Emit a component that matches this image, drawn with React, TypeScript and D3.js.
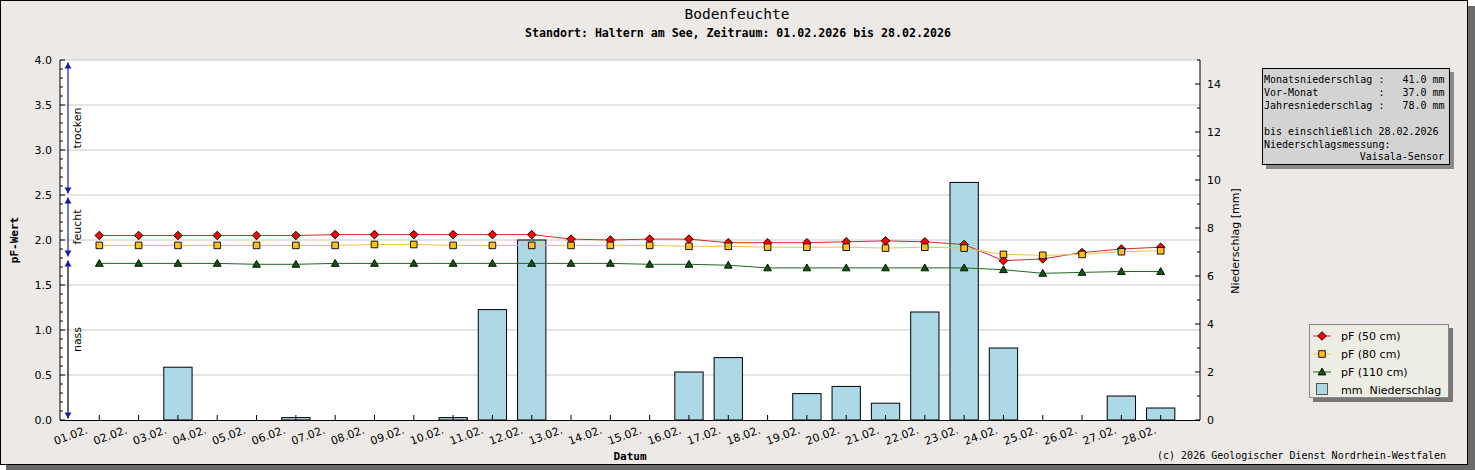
import React, { useEffect } from "react";
import * as d3 from "d3";

// Tageswerte Februar 2026, Standort Haltern am See
const dayLabels = [
  "01.02.", "02.02.", "03.02.", "04.02.", "05.02.", "06.02.", "07.02.",
  "08.02.", "09.02.", "10.02.", "11.02.", "12.02.", "13.02.", "14.02.",
  "15.02.", "16.02.", "17.02.", "18.02.", "19.02.", "20.02.", "21.02.",
  "22.02.", "23.02.", "24.02.", "25.02.", "26.02.", "27.02.", "28.02.",
];

const pf50 = [
  2.05, 2.05, 2.05, 2.05, 2.05, 2.05, 2.06, 2.06, 2.06, 2.06, 2.06, 2.06, 2.01, 2.0,
  2.01, 2.01, 1.97, 1.97, 1.97, 1.98, 1.99, 1.98, 1.95, 1.77, 1.79, 1.86, 1.9, 1.92,
];
const pf80 = [
  1.94, 1.94, 1.94, 1.94, 1.94, 1.94, 1.94, 1.95, 1.95, 1.94, 1.94, 1.94, 1.94, 1.94,
  1.94, 1.93, 1.93, 1.92, 1.92, 1.92, 1.91, 1.92, 1.91, 1.84, 1.83, 1.84, 1.87, 1.88,
];
const pf110 = [
  1.74, 1.74, 1.74, 1.74, 1.73, 1.73, 1.74, 1.74, 1.74, 1.74, 1.74, 1.74, 1.74, 1.74,
  1.73, 1.73, 1.72, 1.69, 1.69, 1.69, 1.69, 1.69, 1.69, 1.67, 1.63, 1.64, 1.65, 1.65,
];
const rainMm = [
  0, 0, 2.2, 0, 0, 0.1, 0, 0, 0, 0.1, 4.6, 7.5, 0, 0,
  0, 2.0, 2.6, 0, 1.1, 1.4, 0.7, 4.5, 9.9, 3.0, 0, 0, 1.0, 0.5,
];

const pfTicks = [0, 0.5, 1.0, 1.5, 2.0, 2.5, 3.0, 3.5, 4.0];
const rainTicks = [0, 2, 4, 6, 8, 10, 12, 14];

const zones = [
  { label: "trocken", from: 2.5, to: 4.0, color: "#1c1ca6" },
  { label: "feucht", from: 1.8, to: 2.5, color: "#1c1ca6" },
  { label: "nass", from: 0, to: 1.8, color: "#000000" },
];

const infoLines = [
  "Monatsniederschlag :   41.0 mm",
  "Vor-Monat          :   37.0 mm",
  "Jahresniederschlag :   78.0 mm",
  "",
  "bis einschließlich 28.02.2026",
  "Niederschlagsmessung:",
];
const infoSensor = "Vaisala-Sensor";

const W = 1475;
const H = 470;
const mono = "'DejaVu Sans Mono', monospace";
const sans = "'DejaVu Sans', sans-serif";

const margin = { left: 60, right: 1200, top: 60, bottom: 420 };

const diamond = (cx: number, cy: number, r = 4.3) =>
  `M${cx},${cy - r}L${cx + r},${cy}L${cx},${cy + r}L${cx - r},${cy}Z`;
const square = (cx: number, cy: number, s = 3.3) =>
  `M${cx - s},${cy - s}H${cx + s}V${cy + s}H${cx - s}Z`;
const triangle = (cx: number, cy: number, s = 3.9) =>
  `M${cx},${cy - s}L${cx + s},${cy + s * 0.75}L${cx - s},${cy + s * 0.75}Z`;

const series = [
  { name: "pF (50 cm)", values: pf50, line: "#d42a2a", fill: "#ff0000", shape: diamond },
  { name: "pF (80 cm)", values: pf80, line: "#f2c24a", fill: "#ffbf1f", shape: square },
  { name: "pF (110 cm)", values: pf110, line: "#1f6a1f", fill: "#0a5a0a", shape: triangle },
];

export default function App() {
  useEffect(() => {
    document.body.style.margin = "0";
  }, []);

  const x = d3.scaleLinear().domain([0, dayLabels.length + 1]).range([margin.left, margin.right]);
  const yPf = d3.scaleLinear().domain([0, 4]).range([margin.bottom, margin.top]);
  const yRain = d3.scaleLinear().domain([0, 15]).range([margin.bottom, margin.top]);
  const barW = x(0.72) - x(0);

  const line = (vals: number[]) =>
    d3.line<number>().x((_, i) => x(i + 1)).y(d => yPf(d))(vals) || "";

  const pfMinor = d3.range(0, 41).map(i => i / 10);
  const rainMinor = d3.range(0, 16);
  const arrowX = 68;

  const upArrow = (tipY: number) =>
    `M${arrowX},${tipY}L${arrowX + 3.5},${tipY + 6}L${arrowX - 3.5},${tipY + 6}Z`;
  const downArrow = (tipY: number) =>
    `M${arrowX},${tipY}L${arrowX + 3.5},${tipY - 6}L${arrowX - 3.5},${tipY - 6}Z`;

  return (
    <svg width={W} height={H} style={{ display: "block" }}>
      {/* Rahmen mit Schatten */}
      <rect x={6} y={6} width={W - 6} height={H - 6} fill="#6a6a6a" />
      <rect x={0.5} y={0.5} width={1467} height={464} fill="#ece9e7" stroke="#000" />

      <text x={737} y={19} textAnchor="middle" fontFamily={mono} fontSize={14.5} fill="#000">
        Bodenfeuchte
      </text>
      <text x={738} y={37} textAnchor="middle" fontFamily={mono} fontSize={11.6} fontWeight="bold" fill="#000">
        Standort: Haltern am See, Zeitraum: 01.02.2026 bis 28.02.2026
      </text>

      {/* Plotfläche */}
      <rect x={margin.left} y={margin.top} width={margin.right - margin.left} height={margin.bottom - margin.top} fill="#fff" />
      {pfTicks.filter(t => t > 0).map(t => (
        <line key={t} x1={margin.left} x2={margin.right} y1={yPf(t)} y2={yPf(t)} stroke="#c8c8c8" />
      ))}

      {/* Niederschlag */}
      {rainMm.map((v, i) =>
        v > 0 ? (
          <rect
            key={i}
            x={x(i + 1) - barW / 2}
            y={yRain(v)}
            width={barW}
            height={yRain(0) - yRain(v)}
            fill="#add8e6"
            stroke="#000"
            strokeWidth={1}
          />
        ) : null
      )}

      {/* pF-Linien */}
      {series.map(s => (
        <path key={s.name} d={line(s.values)} fill="none" stroke={s.line} strokeWidth={1} />
      ))}
      {series.map(s =>
        s.values.map((v, i) => (
          <path key={s.name + i} d={s.shape(x(i + 1), yPf(v))} fill={s.fill} stroke="#000" strokeWidth={0.9} />
        ))
      )}

      {/* Achsen */}
      <line x1={margin.left} x2={margin.left} y1={margin.top} y2={margin.bottom} stroke="#000" />
      <line x1={margin.right} x2={margin.right} y1={margin.top} y2={margin.bottom} stroke="#000" />
      <line x1={margin.left} x2={margin.right} y1={margin.bottom + 0.5} y2={margin.bottom + 0.5} stroke="#000" />

      {pfMinor.map(t => {
        const major = Math.round(t * 10) % 5 === 0;
        return (
          <line key={t} x1={margin.left} x2={margin.left + (major ? 5 : 3)} y1={yPf(t)} y2={yPf(t)} stroke="#000" />
        );
      })}
      {pfTicks.map(t => (
        <text key={t} x={52} y={yPf(t)} dy="0.35em" textAnchor="end" fontFamily={sans} fontSize={11} fill="#000">
          {t.toFixed(1)}
        </text>
      ))}

      {rainMinor.map(t => (
        <line key={t} x1={margin.right - (t % 2 === 0 ? 5 : 3)} x2={margin.right} y1={yRain(t)} y2={yRain(t)} stroke="#000" />
      ))}
      {rainTicks.map(t => (
        <text key={t} x={1207} y={yRain(t)} dy="0.35em" fontFamily={sans} fontSize={11} fill="#000">
          {t}
        </text>
      ))}

      {dayLabels.map((d, i) => (
        <g key={d}>
          <line x1={x(i + 1)} x2={x(i + 1)} y1={margin.bottom} y2={margin.bottom - 5} stroke="#000" />
          <text
            transform={`translate(${x(i + 1) - 11 + 0.27 * i},433) rotate(-20)`}
            textAnchor="end"
            fontFamily={sans}
            fontSize={11}
            fill="#000"
          >
            {d}
          </text>
        </g>
      ))}

      {/* Achsentitel */}
      <text transform={`translate(18,240) rotate(-90)`} textAnchor="middle" fontFamily={mono} fontSize={11} fontWeight="bold">
        pF-Wert
      </text>
      <text transform={`translate(1239,241) rotate(-90)`} textAnchor="middle" fontFamily={sans} fontSize={11}>
        Niederschlag [mm]
      </text>
      <text x={630} y={460} textAnchor="middle" fontFamily={mono} fontSize={11} fontWeight="bold">
        Datum
      </text>

      {/* Bereiche trocken / feucht / nass */}
      {zones.map(z => {
        const top = yPf(z.to) + 2.5;
        const bot = yPf(z.from) - 1.5;
        return (
          <g key={z.label}>
            <line x1={arrowX} x2={arrowX} y1={top} y2={bot} stroke={z.color} strokeWidth={1.2} />
            <path d={upArrow(top)} fill="#1c1ca6" />
            <path d={downArrow(bot)} fill="#1c1ca6" />
            <text
              transform={`translate(81,${(top + bot) / 2}) rotate(-90)`}
              textAnchor="middle"
              fontFamily={sans}
              fontSize={11}
              fill="#000"
            >
              {z.label}
            </text>
          </g>
        );
      })}

      {/* Infobox */}
      <rect x={1266} y={72} width={188} height={97} fill="#8a8a8a" />
      <rect x={1262.5} y={68.5} width={187} height={96} fill="#d3d3d3" stroke="#000" />
      {infoLines.map((l, i) => (
        <text key={i} x={1264} y={83 + i * 12.9} fontFamily={mono} fontSize={10} style={{ whiteSpace: "pre" }}>
          {l}
        </text>
      ))}
      <text x={1444} y={160} textAnchor="end" fontFamily={mono} fontSize={10}>
        {infoSensor}
      </text>

      {/* Legende */}
      <rect x={1313} y={328} width={140} height={74} fill="#777" />
      <rect x={1309.5} y={324.5} width={139} height={73} fill="#eeede4" stroke="#888" />
      {series.map((s, i) => {
        const cy = 336 + i * 18;
        return (
          <g key={s.name}>
            <line x1={1313} x2={1331} y1={cy} y2={cy} stroke={s.line} />
            <path d={s.shape(1322, cy)} fill={s.fill} stroke="#000" strokeWidth={0.9} />
            <text x={1341} y={cy} dy="0.35em" fontFamily={sans} fontSize={11}>
              {s.name}
            </text>
          </g>
        );
      })}
      <rect x={1316.5} y={383.5} width={11} height={11} fill="#add8e6" stroke="#555" />
      <text x={1341} y={390} dy="0.35em" fontFamily={sans} fontSize={11} style={{ whiteSpace: "pre" }}>
        mm  Niederschlag
      </text>

      <text x={1446} y={459} textAnchor="end" fontFamily={mono} fontSize={10}>
        (c) 2026 Geologischer Dienst Nordrhein-Westfalen
      </text>
    </svg>
  );
}
